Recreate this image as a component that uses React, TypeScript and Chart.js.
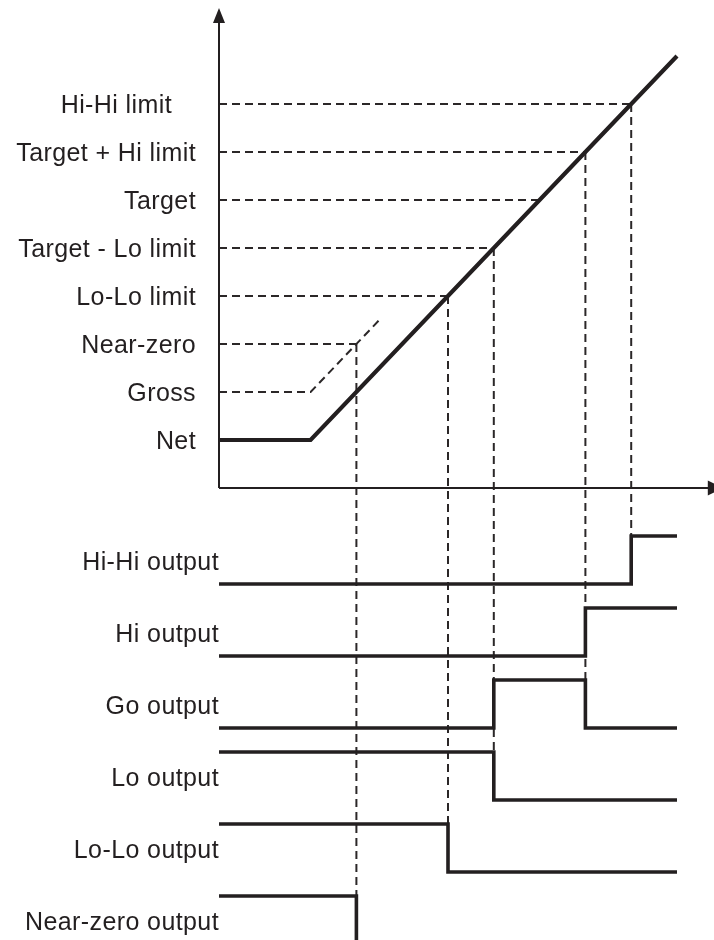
import { useEffect, useRef } from "react";
import Chart from "chart.js/auto";

// ---------- data ----------
const levelLabels = [
  "Net",
  "Gross",
  "Near-zero",
  "Lo-Lo limit",
  "Target - Lo limit",
  "Target",
  "Target + Hi limit",
  "Hi-Hi limit",
];
const levelValues = [1, 2, 3, 4, 5, 6, 7, 8];

// net weight signal (solid)
const netTimes = [0, 2, 10];
const netValues = [1, 1, 9];
// gross weight signal (dashed)
const grossTimes = [0, 2, 3.55];
const grossValues = [2, 2, 3.55];

// limit levels and the times at which the signal crosses them
const limitLevels = [3, 4, 5, 6, 7, 8];
const crossTimes = [3, 5, 6, 7, 8, 9];

// outputs
const outputLabels = [
  "Hi-Hi output",
  "Hi output",
  "Go output",
  "Lo output",
  "Lo-Lo output",
  "Near-zero output",
];
const outputStartStates = [0, 0, 0, 1, 1, 1];
const outputSwitchTimes = [[9], [8], [6, 8], [6], [5], [3]];
const outputEndTime = 10;

// drop lines from a crossing down to an output row
const dropTimes = [3, 5, 6, 8, 9];
const dropLevels = [3, 4, 5, 7, 8];
const dropToRow = [5, 4, 3, 2, 0];

// axis extents (data units)
const axisTimeEnd = 11;
const axisLevelEnd = 10;

// ---------- layout / style ----------
const INK = "#231f20";
const rowLow = (i: number) => -2 - 1.5 * i;
const rowHigh = (i: number) => rowLow(i) + 1;
const DASH = [8, 5];

function stepPoints(i: number) {
  let s = outputStartStates[i];
  const lvl = (st: number) => rowLow(i) + st;
  const pts = [{ x: 0, y: lvl(s) }];
  for (const t of outputSwitchTimes[i]) {
    pts.push({ x: t, y: lvl(s) });
    s = 1 - s;
    pts.push({ x: t, y: lvl(s) });
  }
  pts.push({ x: outputEndTime, y: lvl(s) });
  return pts;
}

const solid = (data: any[], width = 4) => ({
  data,
  borderColor: INK,
  borderWidth: width,
  pointRadius: 0,
  tension: 0,
  fill: false,
  order: 0,
});
const dashed = (data: any[]) => ({
  data,
  borderColor: "#2b2728",
  borderWidth: 2,
  borderDash: DASH,
  pointRadius: 0,
  tension: 0,
  fill: false,
  order: 1,
});

const overlay = {
  id: "overlay",
  afterDatasetsDraw(chart: any) {
    const { ctx } = chart;
    const x = chart.scales.x;
    const y = chart.scales.y;
    const ox = x.getPixelForValue(0);
    const oy = y.getPixelForValue(0);
    ctx.save();
    ctx.fillStyle = INK;
    // y arrow
    const tipY = y.getPixelForValue(axisLevelEnd);
    ctx.beginPath();
    ctx.moveTo(ox, tipY);
    ctx.lineTo(ox - 6, tipY + 15);
    ctx.lineTo(ox + 6, tipY + 15);
    ctx.closePath();
    ctx.fill();
    // x arrow
    const tipX = x.getPixelForValue(axisTimeEnd);
    ctx.beginPath();
    ctx.moveTo(tipX, oy);
    ctx.lineTo(tipX - 15, oy - 7.5);
    ctx.lineTo(tipX - 15, oy + 7.5);
    ctx.closePath();
    ctx.fill();

    // labels
    ctx.font = '25px "Liberation Sans", Arial, sans-serif';
    try {
      (ctx as any).letterSpacing = "0.4px";
    } catch (e) {}
    ctx.textAlign = "right";
    ctx.textBaseline = "alphabetic";
    const half = 9;
    levelLabels.forEach((lab, i) => {
      const pad = i === levelLabels.length - 1 ? 47 : 23;
      ctx.fillText(lab, ox - pad, y.getPixelForValue(levelValues[i]) + half);
    });
    outputLabels.forEach((lab, i) => {
      const mid = (rowLow(i) + rowHigh(i)) / 2;
      ctx.fillText(lab, ox, y.getPixelForValue(mid) + half + 1);
    });
    ctx.restore();
  },
};

export default function App() {
  const ref = useRef<HTMLCanvasElement | null>(null);
  useEffect(() => {
    if (!ref.current) return;
    const datasets: any[] = [];
    // axes
    datasets.push(solid([{ x: 0, y: 0 }, { x: 0, y: axisLevelEnd - 0.2 }], 2));
    datasets.push(solid([{ x: 0, y: 0 }, { x: axisTimeEnd - 0.2, y: 0 }], 2));
    // net signal
    datasets.push(solid(netTimes.map((t, i) => ({ x: t, y: netValues[i] })), 4.2));
    // outputs
    outputLabels.forEach((_, i) => datasets.push(solid(stepPoints(i), 3.6)));
    // gross signal
    datasets.push(dashed(grossTimes.map((t, i) => ({ x: t, y: grossValues[i] }))));
    // limit guides
    limitLevels.forEach((L, i) =>
      datasets.push(dashed([{ x: 0, y: L }, { x: crossTimes[i], y: L }]))
    );
    // drop lines
    dropTimes.forEach((t, i) =>
      datasets.push(
        dashed([
          { x: t, y: dropLevels[i] },
          { x: t, y: rowHigh(dropToRow[i]) },
        ])
      )
    );

    const chart = new Chart(ref.current, {
      type: "line",
      data: { datasets },
      options: {
        animation: false,
        responsive: false,
        events: [],
        layout: { padding: 0 },
        parsing: false as any,
        plugins: { legend: { display: false }, tooltip: { enabled: false } },
        scales: {
          x: { type: "linear", min: -219 / 45.8, max: (714 - 219) / 45.8, display: false },
          y: { type: "linear", min: -452 / 48, max: 488 / 48, display: false },
        },
      },
      plugins: [overlay],
    });
    return () => chart.destroy();
  }, []);
  return (
    <div style={{ position: "absolute", left: 0, top: 0, width: 714, height: 940, background: "#fff" }}>
      <canvas ref={ref} width={714} height={940} />
    </div>
  );
}
